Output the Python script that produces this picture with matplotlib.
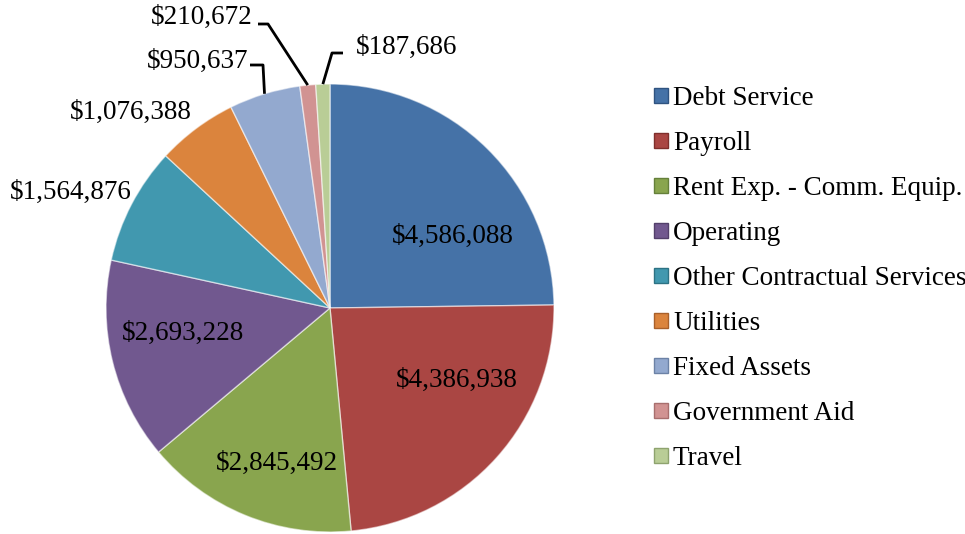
import numpy as np
import matplotlib.pyplot as plt
from matplotlib.patches import Patch

categories = ["Debt Service", "Payroll", "Rent Exp. - Comm. Equip.", "Operating",
              "Other Contractual Services", "Utilities", "Fixed Assets",
              "Government Aid", "Travel"]
values = np.array([4586088, 4386938, 2845492, 2693228, 1564876,
                   1076388, 950637, 210672, 187686])
colors = ["#4572A7", "#AA4643", "#89A54E", "#71588F", "#4198AF",
          "#DB843D", "#93A9CF", "#D19392", "#B9CD96"]
edges = ["#2f5380", "#7f2f2c", "#65803a", "#53406b", "#2d7284",
         "#a9602a", "#6c82a6", "#a86f6e", "#8ea36e"]

plt.rcParams["font.family"] = ["Liberation Serif", "DejaVu Serif"]
fs = 19.5

fig = plt.figure(figsize=(9.65, 5.34), dpi=100)
cx, cy, r = 330, 308, 224
ax = fig.add_axes([(cx - r) / 965, (534 - cy - r) / 534, 2 * r / 965, 2 * r / 534])

wedges, _ = ax.pie(values, colors=colors, startangle=90, counterclock=False,
                   radius=1, wedgeprops=dict(edgecolor=(1, 1, 1, 0.55), linewidth=1))
ax.set_xlim(-1, 1)
ax.set_ylim(-1, 1)
ax.set_aspect("equal")

def lab(v):
    return "${:,}".format(v)

def mid(w):
    return np.deg2rad((w.theta1 + w.theta2) / 2)

def px(x, y):
    return (x - cx) / r, (cy - y) / r

# labels placed by pixel position (text layout only)
label_pos = {0: (453, 236), 1: (457, 380), 2: (277, 463), 3: (183, 333),
             4: (71, 192), 5: (131, 112)}
for i, p in label_pos.items():
    tx, ty = px(*p)
    ax.text(tx, ty, lab(values[i]), ha="center", va="center", fontsize=fs, clip_on=False)

# outer labels with leader lines
lead = {6: ((250, 65), (263, 65), (248, 61), "right"),
        7: ((258, 24), (268, 24), (253, 17), "right"),
        8: ((343, 53), (332, 53), (356, 47), "left")}
for i, (p0, p1, pt, ha) in lead.items():
    a = mid(wedges[i])
    ex, ey = np.cos(a), np.sin(a)
    x0, y0 = px(*p0)
    x1, y1 = px(*p1)
    ax.plot([x0, x1, ex], [y0, y1, ey], color="black", lw=2, clip_on=False,
            solid_capstyle="butt")
    tx, ty = px(*pt)
    ax.text(tx, ty, lab(values[i]), ha=ha, va="center", fontsize=fs, clip_on=False)

handles = [Patch(facecolor=c, edgecolor=e, linewidth=1) for c, e in zip(colors, edges)]
fig.legend(handles, categories, loc="upper left", bbox_to_anchor=(654 / 965, 1 - 86 / 534),
           frameon=False, fontsize=fs, handlelength=0.5, handleheight=0.5,
           handletextpad=0.2, labelspacing=0.74, borderpad=0, borderaxespad=0)

fig.savefig("out.png", dpi=100)
